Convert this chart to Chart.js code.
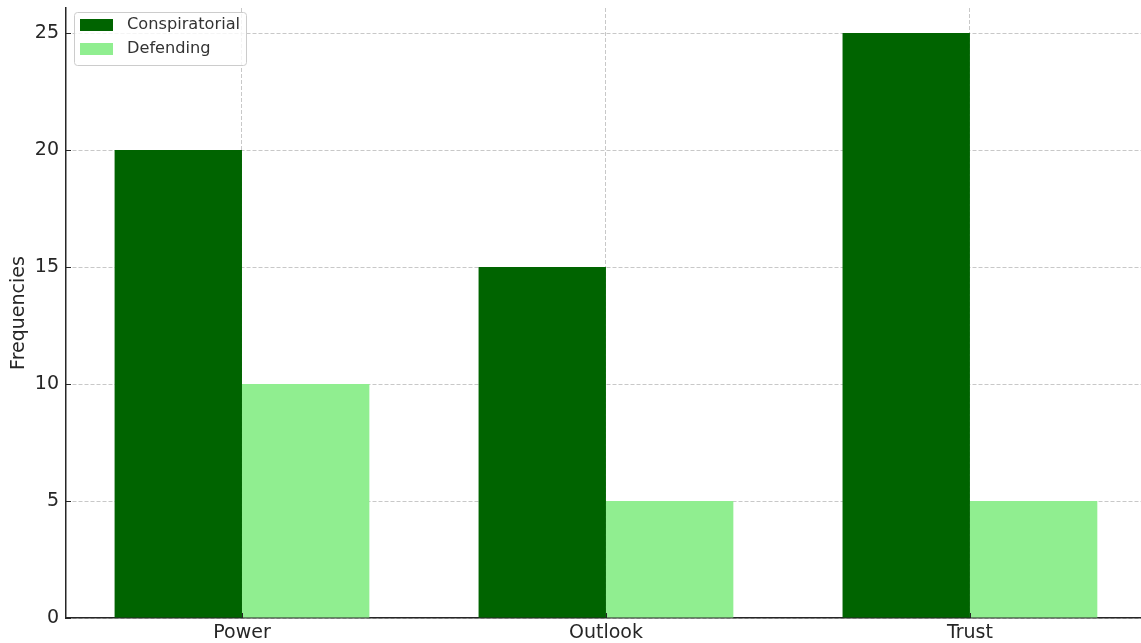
<!DOCTYPE html>
<html><head><meta charset="utf-8">
<script src="https://cdn.jsdelivr.net/npm/chart.js@4.4.1/dist/chart.umd.min.js"></script>
<style>html,body{margin:0;padding:0;background:#fff}#wrap{width:1141px;height:643px}</style>
</head><body><div id="wrap"><canvas id="c" width="1141" height="643"></canvas></div>
<script>
const categories = ['Power', 'Outlook', 'Trust'];
const conspiratorial = [20, 15, 25];
const defending = [10, 5, 5];
const yTicks = [0, 5, 10, 15, 20, 25];
const seriesNames = ['Conspiratorial', 'Defending'];
const seriesColors = ['#006400', '#90EE90'];
const yTitle = 'Frequencies';

const FONT = 'DejaVu Sans';
const INK = '#262626';
const GRID = 'rgba(176,176,176,0.7)';

const legendPlugin = {
  id: 'mplLegend',
  afterDraw(chart) {
    const ctx = chart.ctx, a = chart.chartArea;
    const bx = a.left + 8.5, by = a.top + 4.5, bw = 172, bh = 53, r = 3;
    ctx.save();
    ctx.beginPath();
    ctx.moveTo(bx + r, by);
    ctx.lineTo(bx + bw - r, by); ctx.quadraticCurveTo(bx + bw, by, bx + bw, by + r);
    ctx.lineTo(bx + bw, by + bh - r); ctx.quadraticCurveTo(bx + bw, by + bh, bx + bw - r, by + bh);
    ctx.lineTo(bx + r, by + bh); ctx.quadraticCurveTo(bx, by + bh, bx, by + bh - r);
    ctx.lineTo(bx, by + r); ctx.quadraticCurveTo(bx, by, bx + r, by);
    ctx.closePath();
    ctx.fillStyle = 'rgba(255,255,255,0.8)';
    ctx.fill();
    ctx.strokeStyle = '#cccccc';
    ctx.lineWidth = 1;
    ctx.stroke();
    ctx.font = '16.2px "' + FONT + '"';
    ctx.textBaseline = 'middle';
    ctx.textAlign = 'left';
    chart.data.datasets.forEach((ds, i) => {
      const ry = a.top + 11 + i * 24;
      ctx.fillStyle = ds.backgroundColor;
      ctx.fillRect(a.left + 14, ry, 33, 12);
      ctx.fillStyle = '#333333';
      ctx.fillText(ds.label, a.left + 61, ry + 6);
    });
    ctx.restore();
  }
};

const innerTicks = {
  id: 'innerTicks',
  afterDraw(chart) {
    const ctx = chart.ctx, a = chart.chartArea;
    ctx.save();
    ctx.strokeStyle = INK;
    ctx.lineWidth = 1;
    ctx.beginPath();
    chart.scales.x.ticks.forEach(t => {
      const px = Math.round(chart.scales.x.getPixelForValue(t.value)) + 0.5;
      ctx.moveTo(px, a.bottom); ctx.lineTo(px, a.bottom - 5);
    });
    chart.scales.y.ticks.forEach(t => {
      const py = Math.round(chart.scales.y.getPixelForValue(t.value)) + 0.5;
      ctx.moveTo(a.left, py); ctx.lineTo(a.left + 5, py);
    });
    ctx.stroke();
    ctx.restore();
  }
};

new Chart(document.getElementById('c'), {
  type: 'bar',
  data: {
    datasets: [
      { label: seriesNames[0], data: conspiratorial.map((v, i) => ({ x: i, y: v })), backgroundColor: seriesColors[0], borderWidth: 0 },
      { label: seriesNames[1], data: defending.map((v, i) => ({ x: i, y: v })), backgroundColor: seriesColors[1], borderWidth: 0 }
    ]
  },
  options: {
    responsive: false,
    animation: false,
    devicePixelRatio: 1,
    layout: { padding: { top: 8, right: 0, bottom: 0, left: 0 } },
    datasets: { bar: { categoryPercentage: 0.7, barPercentage: 1.0, grouped: true } },
    plugins: { legend: { display: false }, tooltip: { enabled: false } },
    scales: {
      x: {
        type: 'linear',
        min: -0.4835,
        max: 2.47,
        offset: false,
        z: 1,
        afterBuildTicks: s => { s.ticks = categories.map((c, i) => ({ value: i })); },
        afterFit: s => { s.height = 25; s.paddingLeft = 0; s.paddingRight = 0; },
        ticks: {
          callback: v => categories[v],
          font: { family: FONT, size: 19 },
          color: INK,
          padding: 4,
          autoSkip: false,
          maxRotation: 0
        },
        grid: { color: GRID, lineWidth: 1, drawTicks: false, offset: false },
        border: { display: true, color: INK, width: 1.5, dash: [4, 2] }
      },
      y: {
        min: 0,
        max: 26.07,
        z: 1,
        afterBuildTicks: s => { s.ticks = yTicks.map(v => ({ value: v })); },
        afterFit: s => { s.width = 66; s.paddingTop = 0; s.paddingBottom = 0; },
        ticks: {
          font: { family: FONT, size: 19 },
          color: INK,
          padding: 7
        },
        grid: { color: GRID, lineWidth: 1, drawTicks: false, offset: false },
        border: { display: true, color: INK, width: 1.5, dash: [4, 2] },
        title: {
          display: true,
          text: yTitle,
          font: { family: FONT, size: 19 },
          color: INK,
          padding: { top: 8, bottom: 0 }
        }
      }
    }
  },
  plugins: [innerTicks, legendPlugin]
});
</script>
</body></html>
